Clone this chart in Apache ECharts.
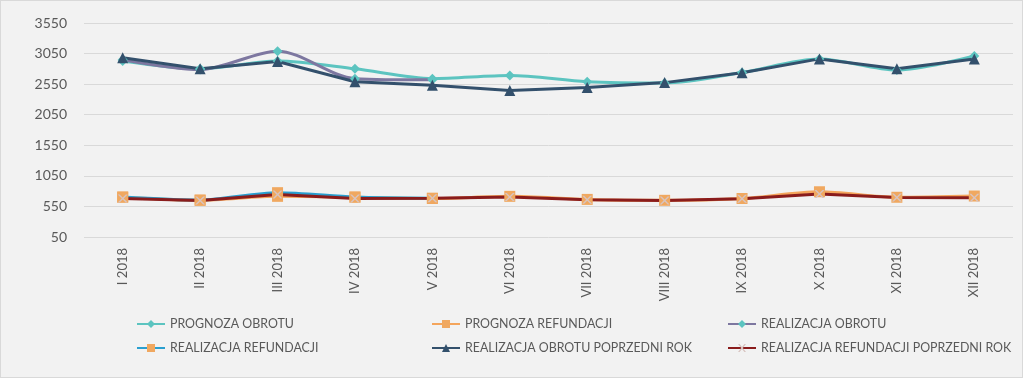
<!DOCTYPE html>
<html>
<head>
<meta charset="utf-8">
<script src="https://cdn.jsdelivr.net/npm/echarts@6/dist/echarts.min.js"></script>
<style>
  html, body { margin: 0; padding: 0; background: #f2f2f2; }
  #main { width: 1023px; height: 378px; box-sizing: border-box; border: 1px solid #d9d9d9; }
</style>
</head>
<body>
<div id="main"></div>
<script>
// dane
var months = ['I 2018', 'II 2018', 'III 2018', 'IV 2018', 'V 2018', 'VI 2018', 'VII 2018', 'VIII 2018', 'IX 2018', 'X 2018', 'XI 2018', 'XII 2018']
var prognozaObrotu = [2930, 2800, 2930, 2800, 2640, 2690, 2590, 2570, 2740, 2960, 2780, 3010]
var prognozaRefundacji = [700, 650, 715, 700, 680, 715, 665, 650, 680, 790, 700, 720]
var realizacjaObrotu = [2950, 2790, 3090, 2640, 2620, null, null, null, null, null, null, null]
var realizacjaRefundacji = [705, 655, 775, 705, 685, null, null, null, null, null, null, null]
var obrotPoprzedniRok = [2980, 2800, 2920, 2590, 2530, 2445, 2495, 2575, 2736, 2963, 2800, 2963]
var refundacjaPoprzedniRok = [680, 645, 745, 680, 685, 705, 660, 645, 675, 755, 695, 690]

var xMark = 'path://M0,0 L2,0 L5,3 L8,0 L10,0 L6,4 L10,8 L8,8 L5,5 L2,8 L0,8 L4,4 Z'
var txt = '#595959'
var font = 'Lato'

var myChart = echarts.init(document.getElementById('main'))

function legendAt(name, left, top) {
  return {
    data: [name],
    left: left,
    top: top,
    itemWidth: 28,
    itemHeight: 10,
    itemGap: 0,
    padding: 0,
    textStyle: { color: txt, fontSize: 12.4, fontFamily: font }
  }
}

myChart.setOption({
  backgroundColor: '#f2f2f2',
  animation: false,
  grid: { left: 83, right: 9, top: 22, bottom: 140 },
  legend: [
    legendAt('PROGNOZA OBROTU', 135, 317),
    legendAt('PROGNOZA REFUNDACJI', 430, 317),
    legendAt('REALIZACJA OBROTU', 726, 317),
    legendAt('REALIZACJA REFUNDACJI', 135, 341),
    legendAt('REALIZACJA OBROTU POPRZEDNI ROK', 430, 341),
    legendAt('REALIZACJA REFUNDACJI POPRZEDNI ROK', 726, 341)
  ],
  xAxis: {
    type: 'category',
    data: months,
    boundaryGap: true,
    axisLine: { show: false },
    axisTick: { show: false },
    axisLabel: { rotate: 90, color: txt, fontSize: 13, fontFamily: font, margin: 11 }
  },
  yAxis: {
    type: 'value',
    min: 50,
    max: 3550,
    interval: 500,
    axisLine: { show: false },
    axisTick: { show: false },
    axisLabel: { color: txt, fontSize: 14, fontFamily: font, margin: 17, formatter: function (v) { return String(v) } },
    splitLine: { lineStyle: { color: '#d9d9d9', width: 1 } }
  },
  series: [{
    name: 'PROGNOZA OBROTU',
    type: 'line',
    smooth: 0.3,
    data: prognozaObrotu,
    symbol: 'diamond',
    symbolSize: 10,
    lineStyle: { color: '#5cc4c0', width: 3 },
    itemStyle: { color: '#5cc4c0' }
  }, {
    name: 'PROGNOZA REFUNDACJI',
    type: 'line',
    smooth: 0.3,
    data: prognozaRefundacji,
    symbol: 'rect',
    symbolSize: 11,
    lineStyle: { color: '#f4a55c', width: 3 },
    itemStyle: { color: '#f0a860' }
  }, {
    name: 'REALIZACJA OBROTU',
    type: 'line',
    smooth: 0.3,
    data: realizacjaObrotu,
    symbol: 'diamond',
    symbolSize: 10,
    lineStyle: { color: '#7d77a0', width: 3 },
    itemStyle: { color: '#5cc4c0' }
  }, {
    name: 'REALIZACJA REFUNDACJI',
    type: 'line',
    smooth: 0.3,
    data: realizacjaRefundacji,
    symbol: 'rect',
    symbolSize: 11,
    lineStyle: { color: '#2a9fcf', width: 3 },
    itemStyle: { color: '#f0a860' }
  }, {
    name: 'REALIZACJA OBROTU POPRZEDNI ROK',
    type: 'line',
    data: obrotPoprzedniRok,
    symbol: 'triangle',
    symbolSize: 11,
    lineStyle: { color: '#33506c', width: 3 },
    itemStyle: { color: '#33506c' }
  }, {
    name: 'REALIZACJA REFUNDACJI POPRZEDNI ROK',
    type: 'line',
    data: refundacjaPoprzedniRok,
    symbol: xMark,
    symbolSize: [10, 8],
    lineStyle: { color: '#8a1c1c', width: 3 },
    itemStyle: { color: '#d8c4c0' }
  }]
})
</script>
</body>
</html>
